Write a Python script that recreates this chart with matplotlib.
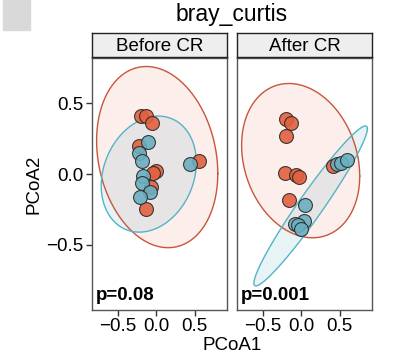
import matplotlib.pyplot as plt
import numpy as np
from matplotlib.patches import Rectangle

plt.rcParams['font.family'] = ['Liberation Sans', 'DejaVu Sans']

# group colours
red_fill = '#E2603F'
blue_fill = '#6AAFC0'
red_line = '#C9553C'
blue_line = '#55B3C6'

# Before CR points (PCoA1, PCoA2)
before_red_x = [-0.20, -0.13, -0.06, -0.23, 0.00, -0.04, -0.07, -0.13, 0.55]
before_red_y = [0.41, 0.41, 0.36, 0.20, 0.02, 0.01, -0.09, -0.25, 0.09]
before_blue_x = [-0.11, -0.23, -0.19, -0.18, -0.19, -0.08, -0.22, 0.44]
before_blue_y = [0.23, 0.15, 0.09, -0.01, -0.06, -0.13, -0.16, 0.07]

# After CR points
after_red_x = [-0.20, -0.13, -0.20, -0.21, -0.07, -0.03, -0.16, 0.41]
after_red_y = [0.39, 0.36, 0.27, 0.01, -0.005, -0.02, -0.18, 0.06]
after_blue_x = [0.04, 0.03, -0.09, -0.04, 0.00, 0.47, 0.52, 0.59]
after_blue_y = [-0.22, -0.33, -0.35, -0.36, -0.39, 0.07, 0.08, 0.10]

# ellipses: centre x, centre y, half range x, half range y, correlation
before_red_ell = (0.01, 0.12, 0.79, 0.64, -0.18)
before_blue_ell = (-0.10, 0.00, 0.62, 0.41, 0.20)
after_red_ell = (-0.01, 0.095, 0.77, 0.545, -0.20)
after_blue_ell = (0.12, -0.225, 0.74, 0.565, 0.965)

panels = ['Before CR', 'After CR']
p_values = ['p=0.08', 'p=0.001']


def ellipse_xy(cx, cy, sx, sy, rho):
    t = np.linspace(0, 2 * np.pi, 200)
    x = cx + sx * np.cos(t)
    y = cy + sy * (rho * np.cos(t) + np.sqrt(1 - rho ** 2) * np.sin(t))
    return x, y


fig = plt.figure(figsize=(4.03, 3.58), dpi=100)
fig.patches.append(Rectangle((3 / 403, 1 - 30 / 358), 27 / 403, 30 / 358,
                             transform=fig.transFigure, color='#d9d9d9', zorder=0))

data = [
    (before_red_x, before_red_y, before_blue_x, before_blue_y, before_red_ell, before_blue_ell),
    (after_red_x, after_red_y, after_blue_x, after_blue_y, after_red_ell, after_blue_ell),
]
lefts = [92 / 403, 237 / 403]
w = 135 / 403
bottom = 1 - 310 / 358
h = 252 / 358
fs = 13.5

for i, (rx, ry, bx, by, rell, bell) in enumerate(data):
    ax = fig.add_axes([lefts[i], bottom, w, h])
    ex, ey = ellipse_xy(*rell)
    ax.fill(ex, ey, color=red_fill, alpha=0.10, lw=0)
    ax.plot(ex, ey, color=red_line, lw=1.0)
    ex, ey = ellipse_xy(*bell)
    ax.fill(ex, ey, color=blue_fill, alpha=0.15, lw=0)
    ax.plot(ex, ey, color=blue_line, lw=1.0)
    ax.scatter(rx, ry, s=100, color=red_fill, edgecolor='#2a2a2a', lw=0.8, alpha=0.9, zorder=3)
    ax.scatter(bx, by, s=100, color=blue_fill, edgecolor='#2a2a2a', lw=0.8, alpha=0.9, zorder=3)
    ax.set_xlim(-0.84, 0.92)
    ax.set_ylim(-0.96, 0.82)
    ax.set_xticks([-0.5, 0.0, 0.5])
    ax.set_xticklabels(['\u22120.5', '0.0', '0.5'])
    ax.set_yticks([-0.5, 0.0, 0.5])
    if i == 0:
        ax.set_yticklabels(['\u22120.5', '0.0', '0.5'])
        ax.set_ylabel('PCoA2', fontsize=fs, labelpad=3)
    else:
        ax.tick_params(axis='y', left=False, labelleft=False)
    ax.tick_params(labelsize=fs, color='#333333', length=4, width=1, pad=2)
    for sp in ax.spines.values():
        sp.set_color('#555555')
        sp.set_linewidth(1)
    ax.text(0.03, 0.025, p_values[i], transform=ax.transAxes, fontsize=fs,
            fontweight='bold', ha='left', va='bottom')

    # strip
    sax = fig.add_axes([lefts[i], 1 - 57 / 358, w, 24 / 358])
    sax.set_facecolor('#EEEEEE')
    sax.set_xticks([])
    sax.set_yticks([])
    for sp in sax.spines.values():
        sp.set_color('#222222')
        sp.set_linewidth(1)
    sax.text(0.5, 0.45, panels[i], transform=sax.transAxes, ha='center', va='center',
             fontsize=fs)

fig.text((92 + 372) / 2 / 403, 1 - 15 / 358, 'bray_curtis', ha='center', va='center',
         fontsize=16.5)
fig.text((92 + 372) / 2 / 403, 1 - 345 / 358, 'PCoA1', ha='center', va='center',
         fontsize=fs)

fig.savefig('out.png', dpi=100)
